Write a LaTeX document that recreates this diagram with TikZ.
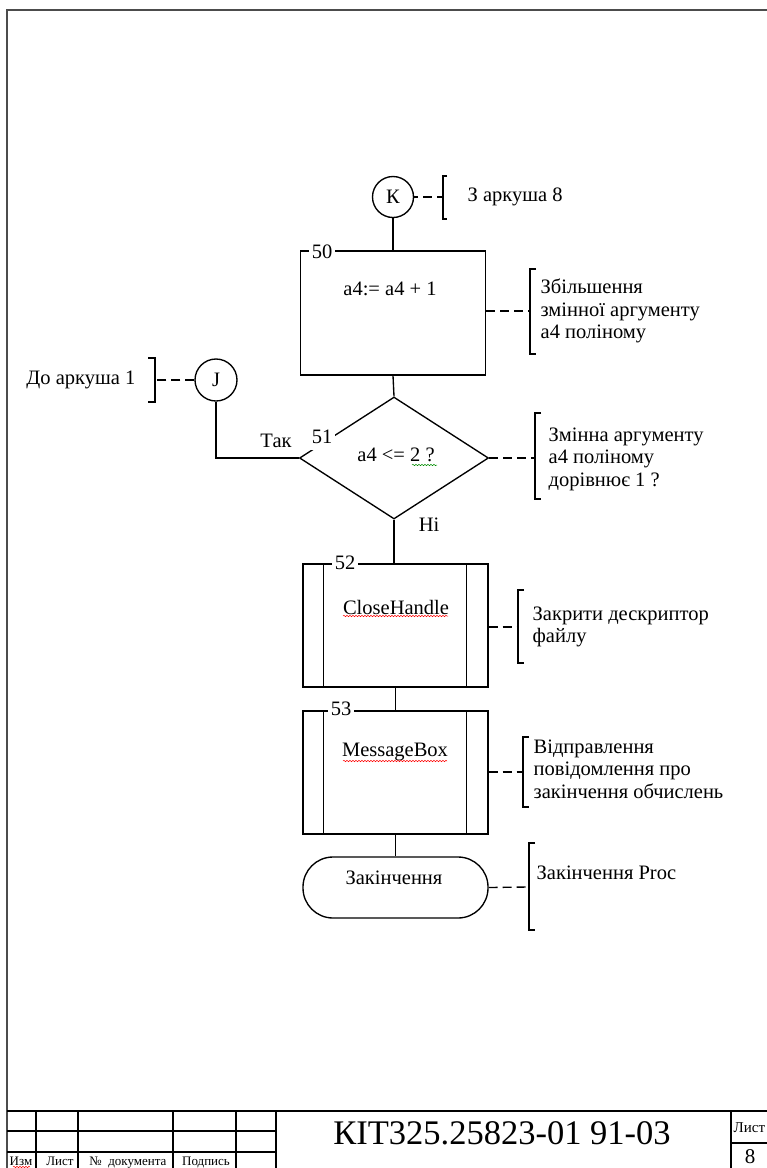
\documentclass[tikz,border=0pt]{standalone}
\usepackage{fontspec}
\setmainfont{Liberation Serif}
\usetikzlibrary{shapes.geometric,decorations.pathmorphing}
\begin{document}
\begin{tikzpicture}[x=1pt,y=-1pt,line width=1.35pt,
  every node/.style={inner sep=0pt,font=\fontsize{20.5}{22.5}\selectfont},
  txt/.style={align=left},
  conn/.style={circle,draw,minimum size=41pt},
  procbox/.style={draw,rectangle,minimum width=185pt,minimum height=124pt},
  subproc/.style={draw,rectangle,minimum width=185pt,minimum height=123pt},
  decision/.style={draw,diamond,minimum width=189pt,minimum height=122pt},
  terminal/.style={draw,rectangle,rounded corners=30pt,minimum width=185pt,minimum height=61pt},
  num/.style={fill=white,inner xsep=3pt,inner ysep=2pt},
  comment/.style={dash pattern=on 9pt off 5pt},
  spell/.style={decorate,decoration={snake,amplitude=0.7pt,segment length=3pt},line width=0.5pt},
  small/.style={font=\fontsize{13}{15}\selectfont},
]
\useasboundingbox (0,0) rectangle (767,1168);

% sheet frame
\draw[line width=2pt,black!70] (7,1168) -- (7,10) -- (767,10);

% title block
\draw (7,1111) -- (767,1111);
\draw (7,1131) -- (276,1131);
\draw (7,1152) -- (276,1152);
\foreach \x in {36,78,173,236,276} \draw (\x,1111) -- (\x,1168);
\draw (731,1111) -- (731,1168);
\draw (731,1143) -- (767,1143);
\node[font=\fontsize{34.5}{36}\selectfont,anchor=base] (code) at (502,1144) {КІТ325.25823-01 91-03};
\node[font=\fontsize{15}{16}\selectfont,anchor=base west] (sheetlbl) at (733,1132) {Лист};
\node[font=\fontsize{21}{22}\selectfont,anchor=base] (sheetno) at (750,1163) {8};
\node[small,anchor=base] (c1) at (21,1165) {Изм};
\node[small,anchor=base] (c2) at (60,1165) {Лист};
\node[small,anchor=base] (c3) at (128,1165) {№\ \ документа};
\node[small,anchor=base] (c4) at (206,1165) {Подпись};
\draw[spell,red] (13,1167) -- (30,1167);

% flowchart blocks
\node[conn] (K) at (393,197) {К};
\node[procbox] (b50) at (393,313) {};
\node (t50) at (390,289) {a4:= a4 + 1};
\node[decision] (d51) at (394,458) {};
\node (t51) at (396,455) {a4 <= 2 ?};
\node[subproc] (b52) at (395.5,625.5) {};
\node (t52) at (396,607) {CloseHandle};
\node[subproc] (b53) at (395.5,772.5) {};
\node (t53) at (395,752) {MessageBox};
\node[terminal] (end) at (395.5,887.5) {};
\node (tend) at (394,878) {Закінчення};
\node[conn,minimum size=42pt] (J) at (216,380) {J};

% side lines of the predefined processes
\foreach \b in {b52,b53}{
  \draw ([xshift=21pt]\b.north west) -- ([xshift=21pt]\b.south west);
  \draw ([xshift=-22pt]\b.north east) -- ([xshift=-22pt]\b.south east);
}

% flow lines
\draw (K.south) -- (K.south |- b50.north);
\draw (b50.south) -- (d51.north);
\draw (d51.south) -- (d51.south |- b52.north);
\draw (b52.south) -- (b52.south |- b53.north);
\draw (b53.south) -- (b53.south |- end.north);
\draw (d51.west) -| (J.south);
\node (yes) at (276,441) {Так};
\node (no) at (429,525) {Ні};

% block numbers
\node[num,inner xsep=3pt] (n50) at (322,252) {50};
\node[num,inner ysep=6pt] (n51) at (322,437) {51};
\node[num] (n52) at (345,563) {52};
\node[num] (n53) at (341,709) {53};

% spelling marks
\draw[spell,green!55!black] (412,465) -- (437,465);
\draw[spell,red] (343,616) -- (448,616);
\draw[spell,red] (343,761) -- (447,761);

% comments
\coordinate (kc) at (443,197);
\draw (447,176) -- (443,176) -- (443,219) -- (447,219);
\draw[comment,dash phase=-9pt] (K.east) -- (kc);
\node[anchor=west] (kt) at (467,197) {З аркуша 8};

\coordinate (jc) at (155,380);
\draw (148,358) -- (155,358) -- (155,402) -- (148,402);
\draw[comment] (J.west) -- (jc);
\node[anchor=east] (jt) at (136,380) {До аркуша 1};

\coordinate (c50) at (530,311);
\draw (536,269) -- (530,269) -- (530,354) -- (536,354);
\draw[comment] (b50.east |- c50) -- (c50);
\node[txt,anchor=west] (m50) at (540,311) {Збільшення\\змінної аргументу\\а4 поліному};

\coordinate (c51) at (535,458);
\draw (541,413) -- (535,413) -- (535,499) -- (541,499);
\draw[comment] (d51.east) -- (c51);
\node[txt,anchor=west] (m51) at (548,459) {Змінна аргументу\\а4 поліному\\дорівнює 1 ?};

\coordinate (c52) at (518,627);
\draw (524,590) -- (518,590) -- (518,663) -- (524,663);
\draw[comment] (b52.east |- c52) -- (c52);
\node[txt,anchor=west] (m52) at (532,627) {Закрити дескриптор\\файлу};

\coordinate (c53) at (523,772);
\draw (529,737) -- (523,737) -- (523,807) -- (529,807);
\draw[comment] (b53.east |- c53) -- (c53);
\node[txt,anchor=west] (m53) at (533,769) {Відправлення\\повідомлення про\\закінчення обчислень};

\coordinate (cend) at (529,887);
\draw (535,843) -- (529,843) -- (529,930) -- (535,930);
\draw[comment] (end.east) -- (cend);
\node[anchor=west] (mend) at (536,873) {Закінчення Proc};
\end{tikzpicture}
\end{document}
